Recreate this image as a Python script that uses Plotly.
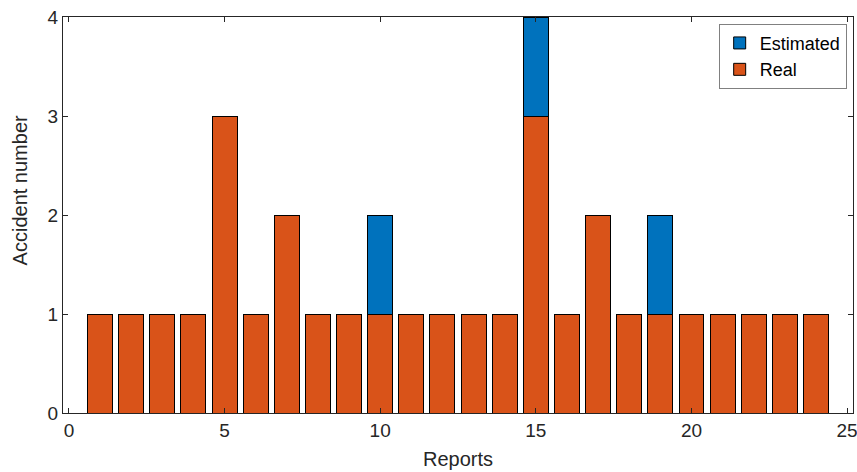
import plotly.graph_objects as go

reports = list(range(1, 25))
real = [1, 1, 1, 1, 3, 1, 2, 1, 1, 1, 1, 1, 1, 1, 3, 1, 2, 1, 1, 1, 1, 1, 1, 1]
estimated = [0, 0, 0, 0, 0, 0, 0, 0, 0, 1, 0, 0, 0, 0, 1, 0, 0, 0, 1, 0, 0, 0, 0, 0]
x_ticks = [0, 5, 10, 15, 20, 25]
y_ticks = [0, 1, 2, 3, 4]

FONT = "Liberation Sans, Arial, Helvetica, sans-serif"

fig = go.Figure()
fig.add_trace(go.Bar(x=reports, y=real, name="Real", width=0.8,
                     marker=dict(color="#D95319", line=dict(color="#000000", width=1))))
fig.add_trace(go.Bar(x=reports, y=estimated, name="Estimated", width=0.8,
                     marker=dict(color="#0072BD", line=dict(color="#000000", width=1))))

axis_common = dict(showline=True, linecolor="#262626", linewidth=1, mirror="ticks",
                   ticks="inside", ticklen=5, tickcolor="#262626", showgrid=False,
                   zeroline=False, automargin=False, ticklabeloverflow="allow",
                   tickfont=dict(family=FONT, size=19, color="#262626"))

fig.update_layout(
    barmode="stack",
    width=857, height=472,
    margin=dict(l=63, r=4, t=17, b=59),
    plot_bgcolor="white", paper_bgcolor="white",
    font=dict(family=FONT, color="#262626"),
    xaxis=dict(range=[-0.19, 25.19], tickvals=x_ticks,
               title=dict(text="Reports", font=dict(family=FONT, size=20, color="#262626"), standoff=12),
               **axis_common),
    yaxis=dict(range=[0, 4], tickvals=y_ticks, **axis_common),
    legend=dict(x=0.992, y=0.983, xanchor="right", yanchor="top", traceorder="reversed",
                bgcolor="white", bordercolor="#808080", borderwidth=1,
                font=dict(family=FONT, size=18, color="#000000"), tracegroupgap=0,
                itemwidth=30),
    showlegend=True,
    annotations=[dict(text="Accident number", textangle=-90, showarrow=False,
                      xref="paper", yref="paper", x=-0.054, y=0.563,
                      xanchor="center", yanchor="middle",
                      font=dict(family=FONT, size=20, color="#262626"))],
)

fig.write_html("out.html", config={"displayModeBar": False},
               post_script="document.body.style.margin='0';document.body.style.overflow='hidden';")
